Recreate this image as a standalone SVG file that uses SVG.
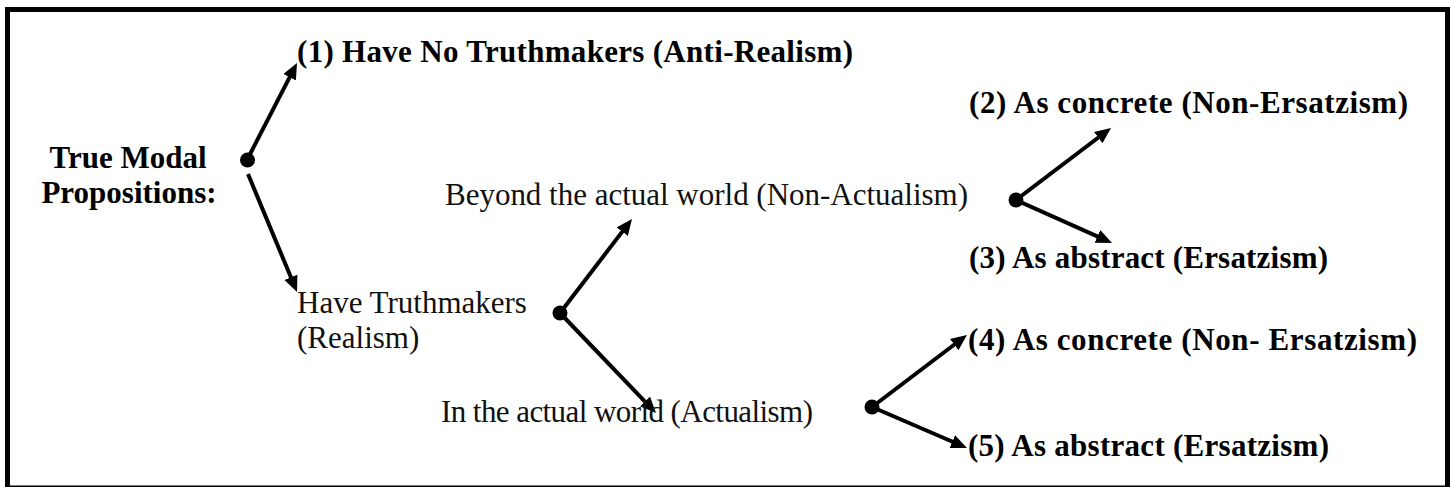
<svg xmlns="http://www.w3.org/2000/svg" width="1450" height="487" viewBox="0 0 1450 487">
  <style>
    .reg { font-family: "Liberation Serif", "Times New Roman", serif; font-size: 31px; fill: #111; }
    .bold { font-family: "Liberation Serif", "Times New Roman", serif; font-size: 31px; font-weight: bold; fill: #000; }
    .conn { stroke: #000; stroke-width: 4; fill: none; marker-end: url(#arrow); }
    .dot { fill: #000; }
  </style>
  <defs>
    <marker id="arrow" markerUnits="userSpaceOnUse" markerWidth="18" markerHeight="16" refX="6" refY="7" orient="auto">
      <path d="M0,0 L16,7 L0,14 Z" fill="#000"/>
    </marker>
  </defs>
  <rect x="0" y="0" width="1450" height="487" fill="#fff"/>
  <rect id="frame" x="7.5" y="9.5" width="1440" height="478.5" fill="none" stroke="#000" stroke-width="5"/>

  <g id="connectors">
    <line class="conn" x1="247" y1="160" x2="292.4" y2="71.9"/>
    <line class="conn" x1="248" y1="174" x2="293.2" y2="282.8"/>
    <line class="conn" x1="560" y1="313" x2="625.9" y2="226.9"/>
    <line class="conn" x1="560" y1="313" x2="649.1" y2="405.8"/>
    <line class="conn" x1="872" y1="407" x2="959.0" y2="341.0"/>
    <line class="conn" x1="872" y1="407" x2="957.8" y2="444.0"/>
    <line class="conn" x1="1016" y1="200" x2="1103.0" y2="134.0"/>
    <line class="conn" x1="1016" y1="200" x2="1102.9" y2="238.9"/>
  </g>

  <g id="dots">
    <circle class="dot" cx="247.5" cy="160" r="7.5"/>
    <circle class="dot" cx="560" cy="313" r="7.5"/>
    <circle class="dot" cx="872" cy="407" r="7.5"/>
    <circle class="dot" cx="1016" cy="200" r="7.5"/>
  </g>

  <g id="root">
    <text class="bold" x="128" y="168" text-anchor="middle">True Modal</text>
    <text class="bold" x="129" y="203" text-anchor="middle">Propositions:</text>
  </g>
  <g id="n1">
    <text class="bold" x="297" y="62" textLength="556">(1) Have No Truthmakers (Anti-Realism)</text>
  </g>
  <g id="realism">
    <text class="reg" x="297" y="313">Have Truthmakers</text>
    <text class="reg" x="297" y="348">(Realism)</text>
  </g>
  <g id="nonactualism">
    <text class="reg" x="445" y="205" textLength="523">Beyond the actual world (Non-Actualism)</text>
  </g>
  <g id="actualism">
    <text class="reg" x="441" y="422" textLength="372">In the actual world (Actualism)</text>
  </g>
  <g id="n2">
    <text class="bold" x="969" y="113" textLength="439">(2) As concrete (Non-Ersatzism)</text>
  </g>
  <g id="n3">
    <text class="bold" x="969" y="268" textLength="359">(3) As abstract (Ersatzism)</text>
  </g>
  <g id="n4">
    <text class="bold" x="968" y="350" textLength="449">(4) As concrete (Non- Ersatzism)</text>
  </g>
  <g id="n5">
    <text class="bold" x="968" y="456" textLength="361">(5) As abstract (Ersatzism)</text>
  </g>
</svg>
